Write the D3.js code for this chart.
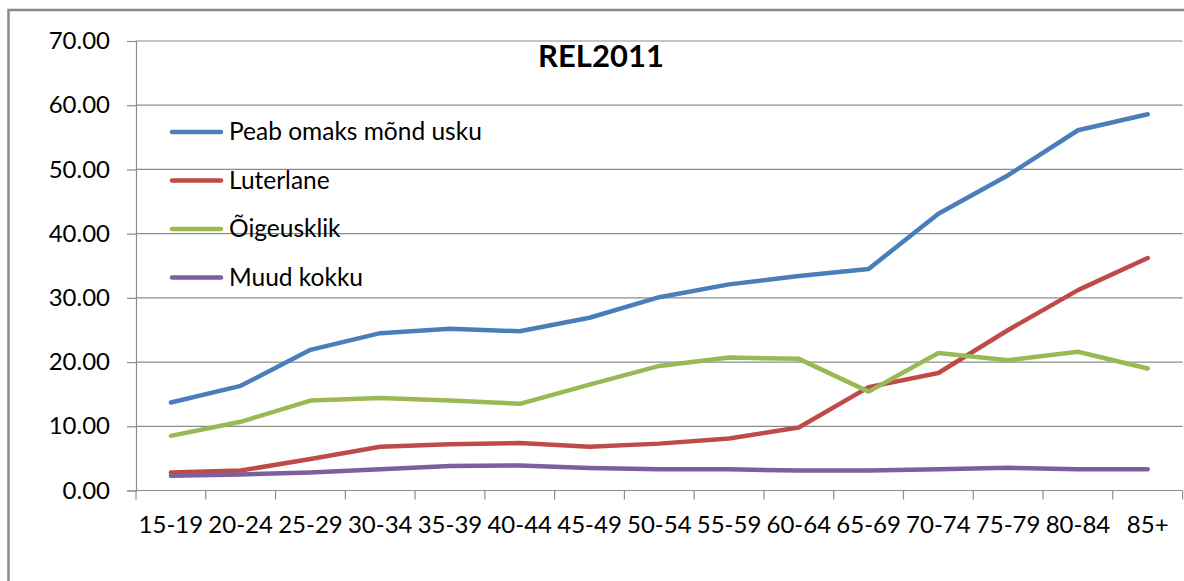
<!DOCTYPE html>
<html>
<head>
<meta charset="utf-8">
<script src="https://cdn.jsdelivr.net/npm/d3@7"></script>
<style>
  body { margin: 0; background: #fff; }
  svg { display: block; }
</style>
</head>
<body>
<div id="chart"></div>
<script>
// age groups + the four series (share %)
const ageGroups = ['15-19','20-24','25-29','30-34','35-39','40-44','45-49','50-54','55-59','60-64','65-69','70-74','75-79','80-84','85+'];
const peabUsku   = [13.7, 16.3, 21.9, 24.5, 25.2, 24.8, 26.9, 30.1, 32.1, 33.4, 34.5, 43.1, 49.1, 56.1, 58.6];
const luterlane  = [2.8, 3.1, 4.9, 6.8, 7.2, 7.4, 6.8, 7.3, 8.1, 9.8, 16.1, 18.3, 25.0, 31.2, 36.2];
const oigeusklik = [8.5, 10.7, 14.0, 14.4, 14.0, 13.5, 16.5, 19.4, 20.7, 20.5, 15.4, 21.4, 20.3, 21.6, 19.0];
const muudKokku  = [2.3, 2.5, 2.8, 3.3, 3.8, 3.9, 3.5, 3.3, 3.3, 3.1, 3.1, 3.3, 3.55, 3.3, 3.3];
const yTicks = [0, 10, 20, 30, 40, 50, 60, 70];
const seriesNames = ['Peab omaks mõnd usku', 'Luterlane', 'Õigeusklik', 'Muud kokku'];
const colors = ['#4a7ebb', '#be4b48', '#98b954', '#7d5fa0'];
const chartTitle = 'REL2011';

const width = 1184;
const height = 581;
const margin = {top: 41, bottom: 90.5, left: 136, right: 1.4};
const font = 'Lato, "Open Sans", sans-serif';

const svg = d3.select('#chart')
    .append('svg')
    .attr('width', width)
    .attr('height', height)
    .style('font-family', font);

// outer chart border (runs off the right and bottom)
svg.append('rect')
    .attr('x', 8.5).attr('y', 10)
    .attr('width', width + 20).attr('height', height + 20)
    .attr('fill', 'none')
    .attr('stroke', '#8a8a8a')
    .attr('stroke-width', 2.5);

const x = d3.scaleBand()
    .domain(ageGroups)
    .range([margin.left, width - margin.right]);

const y = d3.scaleLinear()
    .domain([0, 70])
    .range([height - margin.bottom, margin.top]);

// gridlines
svg.append('g')
    .selectAll('line')
    .data(yTicks.filter(d => d > 0))
    .enter()
    .append('line')
    .attr('x1', margin.left)
    .attr('x2', width - margin.right)
    .attr('y1', d => y(d))
    .attr('y2', d => y(d))
    .attr('stroke', '#8c8c8c')
    .attr('stroke-width', 1.2);

function yAxis(g){
    g.attr('transform', `translate(${margin.left}, 0)`)
    .call(d3.axisLeft(y).tickValues(yTicks).tickFormat(d3.format('.2f')).tickSize(9).tickPadding(17))
    .call(g => g.select('.domain').attr('stroke', '#8c8c8c').attr('stroke-width', 1.2))
    .call(g => g.selectAll('.tick line').attr('stroke', '#8c8c8c').attr('stroke-width', 1.2))
    .call(g => g.selectAll('.tick text').attr('fill', '#000').style('font-size', '24px').style('font-family', font));
}

function xAxis(g){
    // ticks sit between the categories, on the band edges
    const edges = d3.range(ageGroups.length + 1).map(i => margin.left + i * x.step());
    g.attr('transform', `translate(0, ${height - margin.bottom})`);
    g.append('line')
        .attr('x1', margin.left).attr('x2', width - margin.right)
        .attr('stroke', '#8c8c8c').attr('stroke-width', 1.2);
    g.selectAll('.edge')
        .data(edges)
        .enter()
        .append('line')
        .attr('class', 'edge')
        .attr('x1', d => d).attr('x2', d => d)
        .attr('y1', 0).attr('y2', 9)
        .attr('stroke', '#8c8c8c').attr('stroke-width', 1.2);
    g.selectAll('text')
        .data(ageGroups)
        .enter()
        .append('text')
        .attr('x', d => x(d) + x.bandwidth() / 2)
        .attr('y', 42)
        .attr('text-anchor', 'middle')
        .style('font-size', '24px')
        .text(d => d);
}

svg.append('g').attr('class', 'y-axis').call(yAxis);
svg.append('g').attr('class', 'x-axis').call(xAxis);

// lines
const allSeries = [peabUsku, luterlane, oigeusklik, muudKokku];
const line = d3.line()
    .x((d, i) => x(ageGroups[i]) + x.bandwidth() / 2)
    .y(d => y(d));

svg.append('g')
    .selectAll('path')
    .data(allSeries)
    .enter()
    .append('path')
    .attr('d', d => line(d))
    .attr('fill', 'none')
    .attr('stroke', (d, i) => colors[i])
    .attr('stroke-width', 4.5)
    .attr('stroke-linejoin', 'round')
    .attr('stroke-linecap', 'round');

// legend
const legend = svg.append('g')
    .attr('transform', 'translate(170, 132)');

const rows = legend.selectAll('g')
    .data(seriesNames)
    .enter()
    .append('g')
    .attr('transform', (d, i) => `translate(0, ${i * 48.5})`);

rows.append('line')
    .attr('x1', 2).attr('x2', 51)
    .attr('stroke', (d, i) => colors[i])
    .attr('stroke-width', 4.5)
    .attr('stroke-linecap', 'round');

rows.append('text')
    .attr('x', 59)
    .attr('y', 8)
    .style('font-size', '24.5px')
    .text(d => d);

// title
svg.append('text')
    .attr('x', 601)
    .attr('y', 67)
    .attr('text-anchor', 'middle')
    .style('font-size', '31px')
    .style('font-weight', 'bold')
    .text(chartTitle);
</script>
</body>
</html>
